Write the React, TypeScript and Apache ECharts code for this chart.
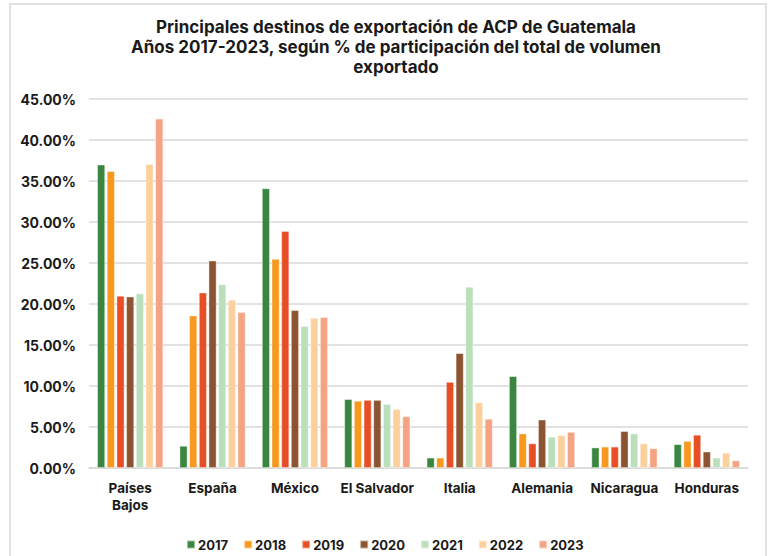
import React, { useEffect, useRef } from "react";
import * as echarts from "echarts";

const categories = ["Países\nBajos", "España", "México", "El Salvador", "Italia", "Alemania", "Nicaragua", "Honduras"];
const years = ["2017", "2018", "2019", "2020", "2021", "2022", "2023"];
const colors = ["#3a8540", "#f7981f", "#e84e26", "#8c5430", "#bcdfbb", "#fcd09c", "#f4a482"];

const v2017 = [37.0, 2.7, 34.1, 8.4, 1.26, 11.2, 2.5, 2.9];
const v2018 = [36.2, 18.6, 25.5, 8.2, 1.26, 4.2, 2.6, 3.3];
const v2019 = [21.0, 21.4, 28.9, 8.3, 10.5, 3.0, 2.6, 4.05];
const v2020 = [20.9, 25.3, 19.25, 8.3, 14.0, 5.9, 4.5, 2.0];
const v2021 = [21.3, 22.4, 17.3, 7.8, 22.1, 3.8, 4.2, 1.26];
const v2022 = [37.05, 20.5, 18.3, 7.2, 8.0, 4.0, 3.0, 1.86];
const v2023 = [42.6, 19.0, 18.4, 6.3, 6.0, 4.4, 2.4, 0.93];
const seriesValues = [v2017, v2018, v2019, v2020, v2021, v2022, v2023];

const FONT = "Inter";

export default function App() {
  const ref = useRef<HTMLDivElement>(null);
  useEffect(() => {
    if (!ref.current) return;
    const chart = echarts.init(ref.current, undefined, { renderer: "svg" });
    chart.setOption({
      animation: false,
      backgroundColor: "#ffffff",
      textStyle: { fontFamily: FONT },
      title: {
        text: "Principales destinos de exportación de ACP de Guatemala\nAños 2017-2023, según % de participación del total de volumen\nexportado",
        left: 391,
        top: 12,
        textAlign: "center",
        textStyle: { fontFamily: FONT, fontSize: 17, fontWeight: "bold", color: "#1a1a1a", lineHeight: 20 },
      },
      graphic: [
        {
          type: "rect",
          shape: { x: 10, y: 4, width: 756, height: 570 },
          style: { fill: "none", stroke: "#d9d9d9", lineWidth: 1.5 },
          silent: true,
          z: -1,
        },
      ],
      legend: {
        left: 181,
        top: 533,
        itemWidth: 8,
        itemHeight: 8,
        itemGap: 15,
        icon: "rect",
        textStyle: { fontFamily: FONT, fontSize: 13, fontWeight: "bold", color: "#1a1a1a", padding: [0, 0, 0, -2] },
        data: years,
      },
      grid: { left: 89, right: 21, top: 99, bottom: 88, containLabel: false },
      xAxis: {
        type: "category",
        data: categories,
        axisLine: { lineStyle: { color: "#d9d9d9", width: 1.5 } },
        axisTick: { show: false },
        axisLabel: { fontFamily: FONT, fontSize: 13.5, fontWeight: "bold", color: "#1a1a1a", lineHeight: 17, margin: 11, interval: 0 },
      },
      yAxis: {
        type: "value",
        min: 0,
        max: 45,
        interval: 5,
        axisLine: { show: false },
        axisTick: { show: false },
        splitLine: { lineStyle: { color: "#d9d9d9", width: 1.5 } },
        axisLabel: {
          fontFamily: FONT,
          fontSize: 14,
          fontWeight: "bold",
          color: "#1a1a1a",
          margin: 13,
          formatter: (v: number) => v.toFixed(2) + "%",
        },
      },
      series: years.map((y, i) => ({
        name: y,
        type: "bar",
        data: seriesValues[i],
        barWidth: 8,
        barGap: "21%",
        itemStyle: { color: colors[i], borderColor: "rgba(255,255,255,0.5)", borderWidth: 0.8 },
      })),
    });
    return () => chart.dispose();
  }, []);
  return <div ref={ref} style={{ position: "fixed", left: 0, top: 0, width: 769, height: 556 }} />;
}
